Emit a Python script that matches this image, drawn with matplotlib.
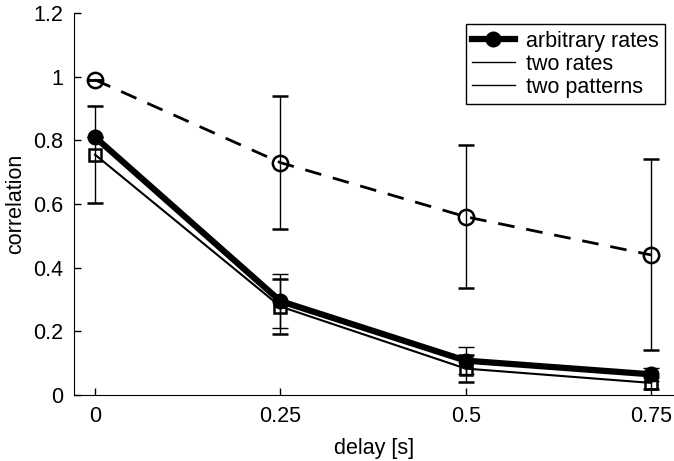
import matplotlib
import matplotlib.pyplot as plt
from matplotlib.lines import Line2D

matplotlib.use('agg')

delays = [0, 0.25, 0.5, 0.75]

arbitrary = [0.81, 0.295, 0.108, 0.065]
arbitrary_err = [0.0, 0.085, 0.042, 0.02]

patterns = [0.755, 0.278, 0.083, 0.038]
patterns_err = [0.152, 0.085, 0.042, 0.02]

rates = [0.99, 0.73, 0.56, 0.44]
rates_err = [0.0, 0.21, 0.225, 0.30]

xticks = [0, 0.25, 0.5, 0.75]
xticklabels = ['0', '0.25', '0.5', '0.75']
yticks = [0, 0.2, 0.4, 0.6, 0.8, 1.0, 1.2]
yticklabels = ['0', '0.2', '0.4', '0.6', '0.8', '1', '1.2']
legend_labels = ['arbitrary rates', 'two rates', 'two patterns']

plt.rcParams['font.family'] = ['Liberation Sans', 'DejaVu Sans']
plt.rcParams['font.size'] = 15.5

fig = plt.figure(figsize=(6.74, 4.61), dpi=100)
ax = fig.add_axes([74 / 674, 66 / 461, 600 / 674, 382 / 461])

err_kw = dict(ecolor='black', elinewidth=1, capsize=6, capthick=1)

ax.errorbar(delays, rates, yerr=rates_err, color='black', linestyle=(0, (6, 4.3)),
            linewidth=2, marker='o', markersize=11, markerfacecolor='none',
            markeredgewidth=1.8, **err_kw)
ax.errorbar(delays, patterns, yerr=patterns_err, color='black', linewidth=1.5,
            marker='s', markersize=9, markerfacecolor='none',
            markeredgewidth=1.8, **err_kw)
ax.errorbar(delays, arbitrary, yerr=arbitrary_err, color='black', linewidth=4.5,
            marker='o', markersize=10.5, markerfacecolor='black', **err_kw)

# legend as drawn in the original: only the first entry shows its marker
handles = [
    Line2D([], [], color='black', linewidth=4.5, marker='o', markersize=10.5),
    Line2D([], [], color='black', linewidth=1),
    Line2D([], [], color='black', linewidth=1),
]
leg = ax.legend(handles, legend_labels, loc='upper right',
                bbox_to_anchor=(0.985, 0.971), borderaxespad=0,
                fancybox=False, edgecolor='black', framealpha=1,
                handlelength=2.0, handletextpad=0.5, labelspacing=0.1,
                borderpad=0.3)
leg.get_frame().set_linewidth(1)

ax.set_xlim(-0.0284, 0.781)
ax.set_ylim(0, 1.2)
ax.set_xticks(xticks)
ax.set_xticklabels(xticklabels)
ax.set_yticks(yticks)
ax.set_yticklabels(yticklabels)
ax.tick_params(direction='in', length=5, width=1, pad=8)
ax.spines['top'].set_visible(False)
ax.spines['right'].set_visible(False)
ax.set_xlabel('delay [s]', labelpad=8)
ax.set_ylabel('correlation', labelpad=5)

fig.savefig('out.png', dpi=100)
plt.close()
